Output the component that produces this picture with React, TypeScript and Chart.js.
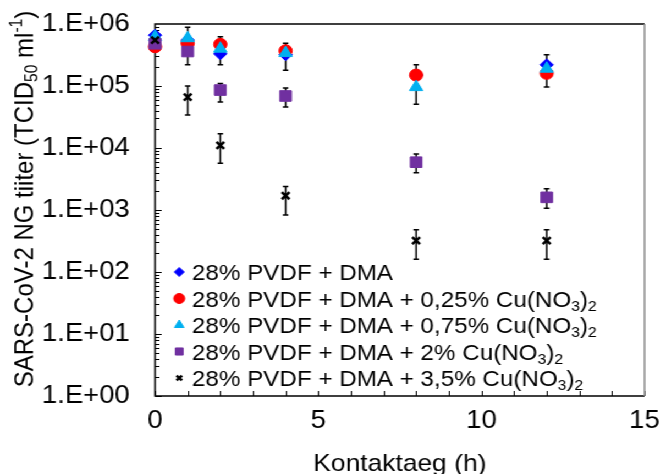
import React, { useEffect, useRef } from 'react';
import { Chart, registerables } from 'chart.js';
import { drawPoint } from 'chart.js/helpers';

Chart.register(...registerables);

// ---------- data ----------
const hours = [0, 1, 2, 4, 8, 12];
const seriesLabels = [
  '28% PVDF + DMA',
  '28% PVDF + DMA + 0,25% Cu(NO₃)₂',
  '28% PVDF + DMA + 0,75% Cu(NO₃)₂',
  '28% PVDF + DMA + 2% Cu(NO₃)₂',
  '28% PVDF + DMA + 3,5% Cu(NO₃)₂',
];
const dma = [6.6e5, 5.5e5, 3.3e5, 3.2e5, 1.5e5, 2.2e5];
const cu025 = [4.3e5, 4.9e5, 4.7e5, 3.7e5, 1.5e5, 1.6e5];
const cu075 = [6.2e5, 5.9e5, 4.0e5, 3.4e5, 9.6e4, 1.9e5];
const cu2 = [4.8e5, 3.6e5, 8.6e4, 6.9e4, 5.9e3, 1.6e3];
const cu35 = [5.5e5, 6.6e4, 1.1e4, 1.7e3, 3.2e2, 3.2e2];

// error bar bounds (null = none)
const cu025Low = [3.6e5, null, 2.2e5, 1.8e5, 5.1e4, 9.6e4];
const cu025High = [6.3e5, null, 6.2e5, 4.9e5, 2.2e5, 3.2e5];
const cu2Low = [null, 2.2e5, 5.5e4, 4.6e4, 4.0e3, 1.07e3];
const cu2High = [null, 8.9e5, 1.1e5, 9.3e4, 8.0e3, 2.2e3];
const cu35Low = [4.5e5, 3.4e4, 5.7e3, 8.3e2, 1.6e2, 1.6e2];
const cu35High = [7.0e5, 1.0e5, 1.7e4, 2.4e3, 4.8e2, 4.8e2];

const yTickValues = [1, 10, 100, 1000, 1e4, 1e5, 1e6];
const yTickLabels = ['1.E+00', '1.E+01', '1.E+02', '1.E+03', '1.E+04', '1.E+05', '1.E+06'];
const xTickValues = [0, 5, 10, 15];
const xTickLabels = ['0', '5', '10', '15'];
const xTitle = 'Kontaktaeg (h)';
const yTitle = 'SARS-CoV-2 NG tiiter (TCID₅₀ ml⁻¹)';

// ---------- styles ----------
const FONT = "'Liberation Sans', Arial, sans-serif";
const colors = ['#0000FF', '#FF0000', '#00B0F0', '#7030A0', '#000000'];
const styles = ['rectRot', 'circle', 'triangle', 'rect', 'crossRot'];
const radii = [6, 6, 7, 7.5, 5];
const legendRadii = [4.5, 5, 5, 5, 3.5];

const SUB: Record<string, string> = { '₀': '0', '₁': '1', '₂': '2', '₃': '3', '₄': '4', '₅': '5', '₆': '6', '₇': '7', '₈': '8', '₉': '9' };
const SUP: Record<string, string> = { '⁰': '0', '¹': '1', '²': '2', '³': '3', '⁴': '4', '⁵': '5', '⁶': '6', '⁷': '7', '⁸': '8', '⁹': '9', '⁻': '-' };

function parseRich(text: string) {
  const segs: { t: string; k: string; w?: number }[] = [];
  for (const ch of text) {
    const k = SUB[ch] ? 'sub' : SUP[ch] ? 'sup' : 'n';
    const c = SUB[ch] || SUP[ch] || ch;
    const last = segs[segs.length - 1];
    if (last && last.k === k) last.t += c;
    else segs.push({ t: c, k });
  }
  return segs;
}

function drawRich(ctx: CanvasRenderingContext2D, text: string, x: number, y: number, size: number, align: 'left' | 'center') {
  const segs = parseRich(text);
  let total = 0;
  for (const s of segs) {
    ctx.font = `${s.k === 'n' ? size : size * 0.65}px ${FONT}`;
    s.w = ctx.measureText(s.t).width;
    total += s.w;
  }
  let cx = align === 'center' ? x - total / 2 : x;
  ctx.textAlign = 'left';
  ctx.textBaseline = 'alphabetic';
  for (const s of segs) {
    ctx.font = `${s.k === 'n' ? size : size * 0.65}px ${FONT}`;
    const dy = s.k === 'sub' ? size * 0.2 : s.k === 'sup' ? -size * 0.38 : 0;
    ctx.fillText(s.t, cx, y + dy);
    cx += s.w || 0;
  }
}

const errorBars = [
  null,
  { low: cu025Low, high: cu025High },
  null,
  { low: cu2Low, high: cu2High },
  { low: cu35Low, high: cu35High },
];

const customPlugin = {
  id: 'custom',
  beforeDatasetsDraw(chart: any) {
    const { ctx, chartArea: a, scales } = chart;
    const xs = scales.x, ys = scales.y;
    ctx.save();
    // inner y ticks
    ctx.strokeStyle = '#000';
    ctx.lineWidth = 1;
    for (let d = 0; d < 6; d++) {
      for (let m = 1; m <= 9; m++) {
        const v = m * Math.pow(10, d);
        const py = Math.round(ys.getPixelForValue(v)) + 0.5;
        const len = m === 1 ? 6 : 4;
        ctx.beginPath();
        ctx.moveTo(a.left, py);
        ctx.lineTo(a.left + len, py);
        ctx.stroke();
      }
    }
    // inner x ticks
    for (let h = 0; h <= 15; h++) {
      const px = Math.round(xs.getPixelForValue(h)) + 0.5;
      ctx.beginPath();
      ctx.moveTo(px, a.bottom);
      ctx.lineTo(px, a.bottom - 5);
      ctx.stroke();
    }
    // frame
    ctx.lineWidth = 1.5;
    ctx.strokeStyle = '#000';
    ctx.beginPath();
    ctx.moveTo(a.right, a.top);
    ctx.lineTo(a.left, a.top);
    ctx.lineTo(a.left, a.bottom);
    ctx.lineTo(a.right, a.bottom);
    ctx.stroke();
    ctx.strokeStyle = '#8c8c8c';
    ctx.beginPath();
    ctx.moveTo(a.right, a.top);
    ctx.lineTo(a.right, a.bottom);
    ctx.stroke();
    // error bars
    ctx.strokeStyle = '#000';
    ctx.lineWidth = 1.5;
    errorBars.forEach((eb) => {
      if (!eb) return;
      hours.forEach((h, i) => {
        const lo = eb.low[i], hi = eb.high[i];
        if (lo == null || hi == null) return;
        const px = xs.getPixelForValue(h);
        const y1 = ys.getPixelForValue(lo), y2 = ys.getPixelForValue(hi);
        ctx.beginPath();
        ctx.moveTo(px, y1); ctx.lineTo(px, y2);
        ctx.moveTo(px - 2.5, y1); ctx.lineTo(px + 2.5, y1);
        ctx.moveTo(px - 2.5, y2); ctx.lineTo(px + 2.5, y2);
        ctx.stroke();
      });
    });
    ctx.restore();
  },
  afterDraw(chart: any) {
    const { ctx, chartArea: a } = chart;
    ctx.save();
    ctx.fillStyle = '#000';
    // legend
    const legendTop = 272;
    const legendStep = 26.5;
    seriesLabels.forEach((lab, i) => {
      const cy = legendTop + i * legendStep;
      ctx.fillStyle = colors[i];
      ctx.strokeStyle = colors[i];
      ctx.lineWidth = i === 4 ? 2.5 : 1;
      drawPoint(ctx, { pointStyle: styles[i], radius: legendRadii[i], borderWidth: i === 4 ? 2.5 : 1, rotation: 0 } as any, 163, cy);
      ctx.fillStyle = '#000';
      drawRich(ctx, lab, 174.5, cy + 8, 22, 'left');
    });
    // x title
    ctx.fillStyle = '#000';
    drawRich(ctx, xTitle, (a.left + a.right) / 2, 471, 24, 'center');
    // y title
    ctx.translate(21, 199);
    ctx.rotate(-Math.PI / 2);
    drawRich(ctx, yTitle, 0, 8.6, 24, 'center');
    ctx.restore();
  },
};

const seriesValues = [dma, cu025, cu075, cu2, cu35];

export default function App() {
  const ref = useRef<HTMLCanvasElement | null>(null);
  useEffect(() => {
    if (!ref.current) return;
    const chart = new Chart(ref.current, {
      type: 'scatter',
      data: {
        datasets: seriesValues.map((vals, i) => ({
          label: seriesLabels[i],
          data: hours.map((h, j) => ({ x: h, y: vals[j] })),
          pointStyle: styles[i],
          pointRadius: radii[i],
          pointBackgroundColor: colors[i],
          pointBorderColor: colors[i],
          pointBorderWidth: i === 4 ? 2.5 : 1,
          showLine: false,
          clip: false,
          order: 4 - i,
        })),
      },
      options: {
        responsive: false,
        animation: false,
        events: [],
        layout: { padding: { top: 24, right: 14, left: 0, bottom: 0 } },
        plugins: { legend: { display: false }, tooltip: { enabled: false } },
        scales: {
          x: {
            type: 'linear',
            min: 0,
            max: 15,
            afterFit: (s: any) => { s.height = 78; s.paddingLeft = 0; s.paddingRight = 0; },
            afterBuildTicks: (s: any) => { s.ticks = xTickValues.map((v) => ({ value: v })); },
            grid: { display: false, drawTicks: false },
            border: { display: false },
            ticks: {
              padding: 10,
              color: '#000',
              maxRotation: 0,
              autoSkip: false,
              font: { size: 25, family: FONT },
              callback: (v: any) => { const k = xTickValues.indexOf(Number(v)); return k >= 0 ? xTickLabels[k] : ''; },
            },
          },
          y: {
            type: 'logarithmic',
            min: 1,
            max: 1e6,
            afterFit: (s: any) => { s.width = 141; s.paddingTop = 0; s.paddingBottom = 0; },
            afterBuildTicks: (s: any) => { s.ticks = yTickValues.map((v) => ({ value: v })); },
            grid: { display: false, drawTicks: false },
            border: { display: false },
            ticks: {
              padding: 23,
              color: '#000',
              autoSkip: false,
              font: { size: 25, family: FONT },
              callback: (v: any) => { const k = yTickValues.indexOf(Number(v)); return k >= 0 ? yTickLabels[k] : ''; },
            },
          },
        },
      } as any,
      plugins: [customPlugin],
    });
    return () => chart.destroy();
  }, []);
  return (
    <div style={{ position: 'fixed', left: 0, top: 0, width: 600, height: 474, transform: 'scaleX(1.1)', transformOrigin: '0 0', background: '#fff' }}>
      <canvas ref={ref} width={600} height={474} />
    </div>
  );
}
